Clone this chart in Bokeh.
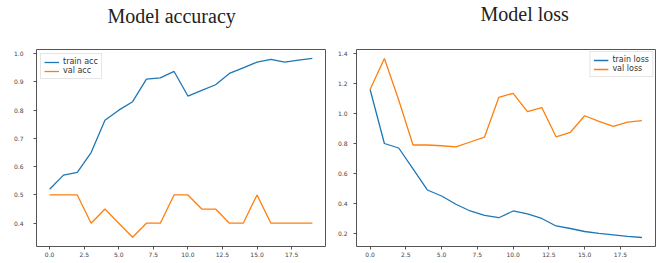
from bokeh.plotting import figure
from bokeh.layouts import row
from bokeh.models import Range1d, FixedTicker, NumeralTickFormatter, Legend, LegendItem, Title
from bokeh.embed import file_html
from bokeh.resources import INLINE

epochs = list(range(20))
train_acc = [0.52, 0.57, 0.58, 0.65, 0.764, 0.80, 0.83, 0.91, 0.914, 0.937,
             0.85, 0.87, 0.89, 0.93, 0.95, 0.97, 0.98, 0.97, 0.977, 0.983]
val_acc = [0.5, 0.5, 0.5, 0.4, 0.45, 0.4, 0.35, 0.4, 0.4, 0.5,
           0.5, 0.45, 0.45, 0.4, 0.4, 0.5, 0.4, 0.4, 0.4, 0.4]
train_loss = [1.16, 0.80, 0.77, 0.63, 0.49, 0.45, 0.395, 0.35, 0.32, 0.305,
              0.35, 0.33, 0.30, 0.25, 0.233, 0.213, 0.20, 0.19, 0.18, 0.173]
val_loss = [1.16, 1.367, 1.09, 0.79, 0.79, 0.785, 0.777, 0.81, 0.843, 1.108,
            1.135, 1.013, 1.04, 0.845, 0.875, 0.985, 0.947, 0.914, 0.943, 0.953]

x_ticks = [0, 2.5, 5, 7.5, 10, 12.5, 15, 17.5]
acc_ticks = [0.4, 0.5, 0.6, 0.7, 0.8, 0.9, 1.0]
loss_ticks = [0.2, 0.4, 0.6, 0.8, 1.0, 1.2, 1.4]

BLUE = "#1f77b4"
ORANGE = "#ff7f0e"


def make_fig(title, y0, y1, yticks, width, bl, br, bt, bb, ystandoff, toff, spacer):
    p = figure(width=width, height=263, x_range=Range1d(-0.95, 19.95),
               y_range=Range1d(y0, y1), output_backend="svg",
               toolbar_location=None, min_border_left=bl, min_border_right=br,
               min_border_top=bt, min_border_bottom=bb)
    p.xgrid.visible = False
    p.ygrid.visible = False
    p.outline_line_color = "#555555"
    p.outline_line_width = 1
    p.xaxis.ticker = FixedTicker(ticks=x_ticks)
    p.yaxis.ticker = FixedTicker(ticks=yticks)
    p.xaxis.formatter = NumeralTickFormatter(format="0.0")
    p.yaxis.formatter = NumeralTickFormatter(format="0.0")
    for ax in (p.xaxis, p.yaxis):
        ax.axis_line_color = None
        ax.major_tick_in = 0
        ax.major_tick_out = 3
        ax.major_tick_line_color = "#555555"
        ax.minor_tick_line_color = None
        ax.major_label_text_font = "DejaVu Sans"
        ax.major_label_text_font_size = "6px"
        ax.major_label_text_color = "#444444"
    p.xaxis.major_label_standoff = 2
    p.yaxis.major_label_standoff = ystandoff
    # spacer next to the frame, then the visible title above it
    p.add_layout(Title(text=" ", text_font_size="1px", standoff=spacer), "above")
    p.add_layout(Title(text=title, text_font="Liberation Serif",
                       text_font_size="20px", text_font_style="normal",
                       text_color="#222222", align="left", offset=toff,
                       standoff=0), "above")
    return p


p1 = make_fig("Model accuracy", 0.3175, 1.0147, acc_ticks, 332, 36, 7, 47, 17, 10,
              71, 20)
r1 = p1.line(epochs, train_acc, line_color=BLUE, line_width=1.3)
r2 = p1.line(epochs, val_acc, line_color=ORANGE, line_width=1.3)
leg1 = Legend(items=[LegendItem(label="train acc", renderers=[r1]),
                     LegendItem(label="val acc", renderers=[r2])],
              location="top_left", margin=4)

p2 = make_fig("Model loss", 0.113, 1.427, loss_ticks, 333, 24, 10, 49, 15, 6,
              124, 22)
r3 = p2.line(epochs, train_loss, line_color=BLUE, line_width=1.3)
r4 = p2.line(epochs, val_loss, line_color=ORANGE, line_width=1.3)
leg2 = Legend(items=[LegendItem(label="train loss", renderers=[r3]),
                     LegendItem(label="val loss", renderers=[r4])],
              location="top_right", margin=2)

for leg in (leg1, leg2):
    leg.label_text_font = "DejaVu Sans"
    leg.label_text_font_size = "8px"
    leg.label_text_color = "#333333"
    leg.glyph_width = 15
    leg.glyph_height = 8
    leg.label_height = 8
    leg.label_standoff = 4
    leg.spacing = 0
    leg.padding = 3
    leg.border_line_color = "#cccccc"
    leg.border_line_width = 1
    leg.background_fill_alpha = 0.85

p1.add_layout(leg1, "center")
p2.add_layout(leg2, "center")

layout = row(p1, p2)
open("out.html", "w").write(file_html(layout, INLINE))
